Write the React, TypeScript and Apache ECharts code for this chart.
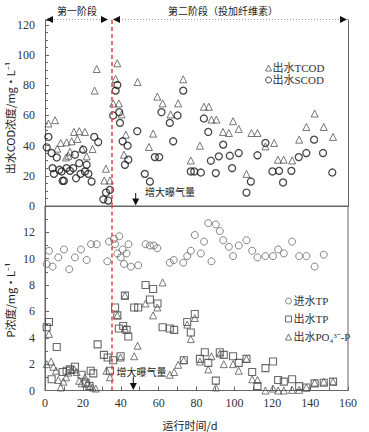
import React, { useEffect, useRef } from "react";
import * as echarts from "echarts";

// ---- Data (day, value) ----
const tcodData: [number, number][] = [
  [1.8, 54.7], [5.3, 56.9], [8.3, 41.8], [11.4, 42.2], [14.1, 42.9], [15.3, 49.1], [18.1, 49.6],
  [21.1, 49.1], [17.1, 44.4], [11.1, 32.2], [12.3, 33.3], [22, 32.9], [25.1, 37.8], [26.2, 76.5],
  [27.3, 90.8], [32.2, 24.7], [31.3, 16.9], [34.3, 16.9], [36, 68], [39, 68], [37.3, 84.2],
  [38.2, 94.6], [40.4, 60.7], [42.7, 47.3], [41.7, 34], [48.9, 82.2], [54.9, 39.1], [57.1, 48],
  [59.3, 72.5], [62.1, 68], [66.3, 60.7], [70.3, 68], [73, 84], [77, 30.2], [81.8, 40],
  [83.9, 65.8], [86.5, 65.8], [87.9, 57.3], [90.5, 57.3], [94, 49.1], [97.1, 48.4], [99.3, 56.2],
  [102.3, 51.1], [106.4, 21.3], [109, 48.4], [112.2, 48.4], [116.4, 39.5], [121, 41.8],
  [123, 30.7], [126, 30.7], [130.5, 30.2], [134.2, 44], [138, 52.4], [142.4, 61.3],
  [147.2, 52.4], [152.1, 45.8], [6.5, 38], [13.2, 36], [19.5, 38]
];

const scodData: [number, number][] = [
  [0.9, 38.9], [1.8, 45.8], [3.5, 35.1], [6.2, 32.2], [4, 25.1], [4.7, 21.3], [7.6, 24],
  [8.8, 22.9], [9.3, 16.7], [10, 16.7], [11.4, 25.1], [13.2, 23.3], [14.9, 25.1], [15.8, 34],
  [16.4, 18.4], [18.1, 28.4], [18.8, 21.3], [20.2, 37.3], [21.1, 22.9], [22, 27.3], [22.9, 21.3],
  [24.6, 16.2], [26, 45.8], [28.1, 42.4], [30.8, 4.4], [32.2, 8.9], [33.4, 3.6], [34.3, 10.7],
  [36, 60], [37.3, 76.5], [38.2, 80.2], [39.2, 62.2], [39.6, 55.1], [41, 42.9], [42.2, 27.3],
  [43.6, 40], [44, 30.7], [48.7, 49.6], [52.7, 21.3], [55.4, 16.2], [58, 32.4], [60.3, 32.4],
  [61.5, 62.2], [65.9, 55.1], [67.7, 42.9], [70, 60], [73, 76.5], [77, 22.9], [78.8, 22.9],
  [82.3, 22.2], [83.9, 58], [86.2, 49.1], [87.6, 30], [90.2, 21.8], [91.8, 32.9], [94.1, 40.7],
  [97.6, 33.3], [98.8, 25.1], [102.3, 35.1], [106.4, 8.9], [108.7, 16.2], [112.2, 33.6],
  [116.4, 41.8], [120.1, 22.9], [123.6, 23.3], [125.7, 15.6], [130.1, 23.3], [134, 32.4],
  [138, 35.1], [142.1, 44], [146.8, 35.1], [151.7, 22.2]
];

const inTpData: [number, number][] = [
  [0.9, 9.6], [2.1, 10.6], [4, 9.4], [7, 10.1], [10, 10.7], [12.8, 9.2], [15.8, 10.1], [19, 10.7],
  [22, 9.9], [24.3, 11.1], [27.3, 11.1], [32.9, 9.8], [33.8, 11.3], [36.4, 11.5], [37, 11.1],
  [39.2, 11.7], [38.2, 10.4], [40, 10.1], [41, 10.7], [41.7, 9.6], [43.1, 10.4], [44.1, 11.1],
  [45.4, 9.4], [49.2, 9.5], [53.1, 11.1], [55.4, 11], [57.5, 11], [59.3, 10.8], [65.9, 9.7],
  [68, 9.9], [73, 9.7], [75.1, 10.2], [77, 10.6], [79.1, 11.8], [82.3, 10.4], [84, 11.3],
  [86.2, 12.7], [87.9, 9.8], [90.2, 12.6], [92.3, 12.1], [94.1, 11.4], [97.1, 10.9], [99.3, 10.2],
  [102.3, 11], [106.4, 11.4], [109.4, 10.6], [112.2, 10.1], [116.4, 10.2], [120.4, 10.2],
  [123.1, 10.7], [126.1, 10.4], [130.5, 11.3], [134.2, 10.2], [138, 10.2], [142.4, 9.4],
  [147.2, 10.3]
];

const outTpData: [number, number][] = [
  [0.9, 4.8], [2.1, 5.2], [6.2, 3.3], [3.5, 0.85], [9.3, 1.4], [11.4, 1.5], [13.2, 1.6],
  [15.8, 1.8], [19.3, 1.2], [24.1, 1.5], [25.5, 1.3], [27.8, 3.5], [31.1, 2.7], [33.1, 2.5],
  [34.3, 1.5], [36, 2.3], [37, 6.3], [38.2, 5.7], [39, 4.7], [39.9, 2.6], [41.3, 4.9], [42.2, 7.2],
  [43.1, 4.6], [44, 4.1], [47.1, 6.3], [49.2, 6.3], [53.1, 8], [55.4, 6.9], [57.1, 7.7],
  [59.4, 6.6], [62.1, 4.8], [65.9, 4.7], [68.2, 4.6], [73.3, 2.3], [75.1, 5.2], [77, 4.4],
  [79.1, 5.8], [81.8, 2.4], [84.4, 2.9], [86.2, 2.1], [90.2, 0.75], [92.3, 2.9], [94.4, 2.7],
  [99.3, 2.6], [102.3, 2.1], [106.4, 2.4], [109.4, 1.4], [112.2, 0.33], [116.4, 1.7],
  [120.4, 2.2], [123.1, 0.8], [126.1, 0.67], [130.5, 0.85], [134.2, 0.33], [138, 0.23],
  [142.4, 0.54], [147.2, 0.59], [152.1, 0.67], [21.5, 0.6], [23.5, 0.35]
];

const po4Data: [number, number][] = [
  [0.9, 2.0], [2.1, 4.3], [3.2, 2.2], [4.4, 1.8], [5.8, 1.5], [7, 0.8], [8.3, 0.23], [9.7, 0.67],
  [11.1, 1.0], [12.3, 1.36], [14.1, 1.56], [15.5, 1.6], [16.7, 1.4], [18.1, 0.74], [19.3, 0.54],
  [21.1, 1.0], [22.3, 0.54], [23.7, 0.33], [25.1, 0.23], [26.8, 0.15], [32.5, 1.5], [34.3, 1.0],
  [38.2, 5.7], [39.9, 2.5], [42.2, 7.2], [42.2, 4.7], [47.1, 2.6], [48.9, 3.4], [53.1, 6.6],
  [57.1, 5.7], [59.3, 6.3], [62.1, 8.2], [65.9, 1.2], [68.2, 1.4], [70.3, 1.95], [73.3, 2.3],
  [75.1, 5.0], [77, 3.9], [79.1, 5.5], [81.8, 2.2], [86.2, 1.6], [87.9, 2.6], [90.2, 0.23],
  [92.3, 2.8], [94.4, 2.0], [99.3, 2.0], [102.3, 1.5], [106.4, 2.4], [109.4, 0.85], [112.2, 0.8],
  [116.4, 0], [120.4, 0.15], [123.1, 0], [126.1, 0], [130.5, 0.05], [134.2, 0.05], [138, 0.23],
  [142.4, 0.6], [147.2, 0.67], [152.1, 0.67]
];

const stageBoundary = 35;
const codTicks = [0, 20, 40, 60, 80, 100, 120];
const pTicks = [0, 2, 4, 6, 8, 10, 12];
const dayTicks = [0, 20, 40, 60, 80, 100, 120, 140, 160];

const FONT = "'Liberation Serif', 'Noto Sans CJK SC', serif";
const CJK = "'Noto Sans CJK SC', 'Liberation Serif', sans-serif";
const AXIS_COLOR = "#666";

function hollow(color: string, width = 1) {
  return { color: "rgba(255,255,255,0)", borderColor: color, borderWidth: width };
}

export default function App() {
  const ref = useRef<HTMLDivElement>(null);
  useEffect(() => {
    if (!ref.current) return;
    const chart = echarts.init(ref.current, undefined, { renderer: "svg" });
    const redLine = {
      silent: true,
      symbol: ["none", "none"],
      label: { show: false },
      lineStyle: { color: "#e0463c", type: [4, 3], width: 1.5 },
      data: [{ xAxis: stageBoundary }],
    };
    const tri = (x: number, y: number, dir: "l" | "r" | "d") => {
      const pts =
        dir === "l"
          ? [[x, y], [x + 7, y - 3.5], [x + 7, y + 3.5]]
          : dir === "r"
          ? [[x, y], [x - 7, y - 3.5], [x - 7, y + 3.5]]
          : [[x, y], [x - 3.5, y - 7], [x + 3.5, y - 7]];
      return { type: "polygon", shape: { points: pts }, style: { fill: "#111" }, z: 20 };
    };
    const legendItemStyle = { borderWidth: 1, color: "rgba(255,255,255,0)" };
    chart.setOption({
      animation: false,
      backgroundColor: "#fff",
      grid: [
        { left: 45, top: 20, width: 303, height: 186, show: false },
        { left: 45, top: 206, width: 303, height: 184.5, show: true, borderColor: AXIS_COLOR, borderWidth: 1 },
      ],
      xAxis: [
        {
          gridIndex: 0, type: "value", min: 0, max: 160, interval: 20,
          axisLine: { show: true, lineStyle: { color: AXIS_COLOR } },
          axisTick: { show: false }, axisLabel: { show: false }, splitLine: { show: false },
        },
        {
          gridIndex: 1, type: "value", min: 0, max: 160, interval: 10,
          axisLine: { show: true, lineStyle: { color: AXIS_COLOR } },
          axisTick: { show: true, inside: true, length: 4, lineStyle: { color: AXIS_COLOR } },
          axisLabel: {
            color: "#333", fontSize: 12, fontFamily: FONT, margin: 6,
            formatter: (v: number) => (dayTicks.includes(v) ? String(v) : ""),
          },
          splitLine: { show: false },
        },
      ],
      yAxis: [
        {
          gridIndex: 0, type: "value", min: 0, max: 123.3, interval: 20, position: "left",
          axisLine: { show: true, lineStyle: { color: AXIS_COLOR } },
          axisTick: { show: true, inside: true, length: 4, lineStyle: { color: AXIS_COLOR } },
          minorTick: { show: true, splitNumber: 4, length: 3, lineStyle: { color: AXIS_COLOR } },
          axisLabel: {
            color: "#333", fontSize: 12, fontFamily: FONT, margin: 10,
            formatter: (v: number) => (codTicks.includes(v) ? String(v) : ""),
          },
          splitLine: { show: false },
        },
        {
          gridIndex: 0, type: "value", min: 0, max: 123.3, position: "right",
          axisLine: { show: true, lineStyle: { color: AXIS_COLOR } },
          axisTick: { show: false }, axisLabel: { show: false }, splitLine: { show: false },
        },
        {
          gridIndex: 1, type: "value", min: 0, max: 14, interval: 2,
          axisLine: { show: true, lineStyle: { color: AXIS_COLOR } },
          axisTick: { show: true, inside: true, length: 4, lineStyle: { color: AXIS_COLOR } },
          minorTick: { show: true, splitNumber: 2, length: 3, lineStyle: { color: AXIS_COLOR } },
          axisLabel: {
            color: "#333", fontSize: 12, fontFamily: FONT, margin: 10,
            formatter: (v: number) => (pTicks.includes(v) ? String(v) : ""),
          },
          splitLine: { show: false },
        },
      ],
      legend: [
        {
          data: ["出水TCOD", "出水SCOD"],
          orient: "vertical", left: 260, top: 57, itemWidth: 6, itemHeight: 6, itemGap: 0,
          itemStyle: legendItemStyle,
          textStyle: { color: "#333", fontSize: 11, fontFamily: FONT, lineHeight: 12, padding: [0, 0, 0, -4] },
          selectedMode: false,
        },
        {
          data: ["进水TP", "出水TP", "出水PO₄³⁻-P"],
          orient: "vertical", left: 280, top: 290, itemWidth: 6, itemHeight: 6, itemGap: 6,
          itemStyle: legendItemStyle,
          textStyle: { color: "#333", fontSize: 11, fontFamily: FONT, lineHeight: 12, padding: [0, 0, 0, -3] },
          selectedMode: false,
        },
      ],
      series: [
        {
          name: "出水TCOD", type: "scatter", xAxisIndex: 0, yAxisIndex: 0, symbol: "triangle",
          symbolSize: 7, itemStyle: hollow("#555", 1), data: tcodData,
        },
        {
          name: "出水SCOD", type: "scatter", xAxisIndex: 0, yAxisIndex: 0, symbol: "circle",
          symbolSize: 7, itemStyle: hollow("#1a1a1a", 1.3), data: scodData, markLine: redLine,
        },
        {
          name: "进水TP", type: "scatter", xAxisIndex: 1, yAxisIndex: 2, symbol: "circle",
          symbolSize: 7, itemStyle: hollow("#666", 1), data: inTpData, markLine: redLine,
        },
        {
          name: "出水TP", type: "scatter", xAxisIndex: 1, yAxisIndex: 2, symbol: "rect",
          symbolSize: 7, itemStyle: hollow("#444", 1.1), data: outTpData,
        },
        {
          name: "出水PO₄³⁻-P", type: "scatter", xAxisIndex: 1, yAxisIndex: 2, symbol: "triangle",
          symbolSize: 7, itemStyle: hollow("#555", 1), data: po4Data,
        },
      ],
      graphic: [
        { type: "line", shape: { x1: 45, y1: 19.5, x2: 108, y2: 19.5 }, style: { stroke: "#999", lineDash: [1, 2], lineWidth: 1 }, z: 19 },
        { type: "line", shape: { x1: 113, y1: 19.5, x2: 348, y2: 19.5 }, style: { stroke: "#999", lineDash: [1, 2], lineWidth: 1 }, z: 19 },
        tri(46, 19.5, "l"), tri(108, 19.5, "r"), tri(113, 19.5, "l"), tri(347, 19.5, "r"),
        { type: "text", x: 77, y: 10.5, style: { text: "第一阶段", align: "center", verticalAlign: "middle", fontSize: 10, fontFamily: CJK, fill: "#222" } },
        { type: "text", x: 223, y: 10.5, style: { text: "第二阶段（投加纤维素）", align: "center", verticalAlign: "middle", fontSize: 10, fontFamily: CJK, fill: "#222" } },
        { type: "text", x: 145, y: 191.5, style: { text: "增大曝气量", align: "left", verticalAlign: "middle", fontSize: 10, fontFamily: CJK, fill: "#222" } },
        { type: "line", shape: { x1: 135.7, y1: 193, x2: 135.7, y2: 201 }, style: { stroke: "#111", lineWidth: 1 }, z: 20 },
        tri(135.7, 205.5, "d"),
        { type: "text", x: 116.5, y: 371.5, style: { text: "增大曝气量", align: "left", verticalAlign: "middle", fontSize: 10, fontFamily: CJK, fill: "#222" } },
        { type: "line", shape: { x1: 133.3, y1: 376.5, x2: 133.3, y2: 385 }, style: { stroke: "#111", lineWidth: 1 }, z: 20 },
        tri(133.3, 390, "d"),
        { type: "text", x: 190, y: 425, style: { text: "运行时间/d", align: "center", verticalAlign: "middle", fontSize: 11, fontFamily: CJK, fill: "#222" } },
        { type: "text", x: 10, y: 118, rotation: Math.PI / 2, style: { text: "出水COD浓度/mg·L⁻¹", align: "center", verticalAlign: "middle", fontSize: 11, fontFamily: CJK, fill: "#222" } },
        { type: "text", x: 10, y: 300, rotation: Math.PI / 2, style: { text: "P浓度/mg·L⁻¹", align: "center", verticalAlign: "middle", fontSize: 11, fontFamily: CJK, fill: "#222" } },
      ],
    });
    return () => chart.dispose();
  }, []);
  return <div ref={ref} style={{ width: 369, height: 432, position: "absolute", left: 0, top: 0 }} />;
}
